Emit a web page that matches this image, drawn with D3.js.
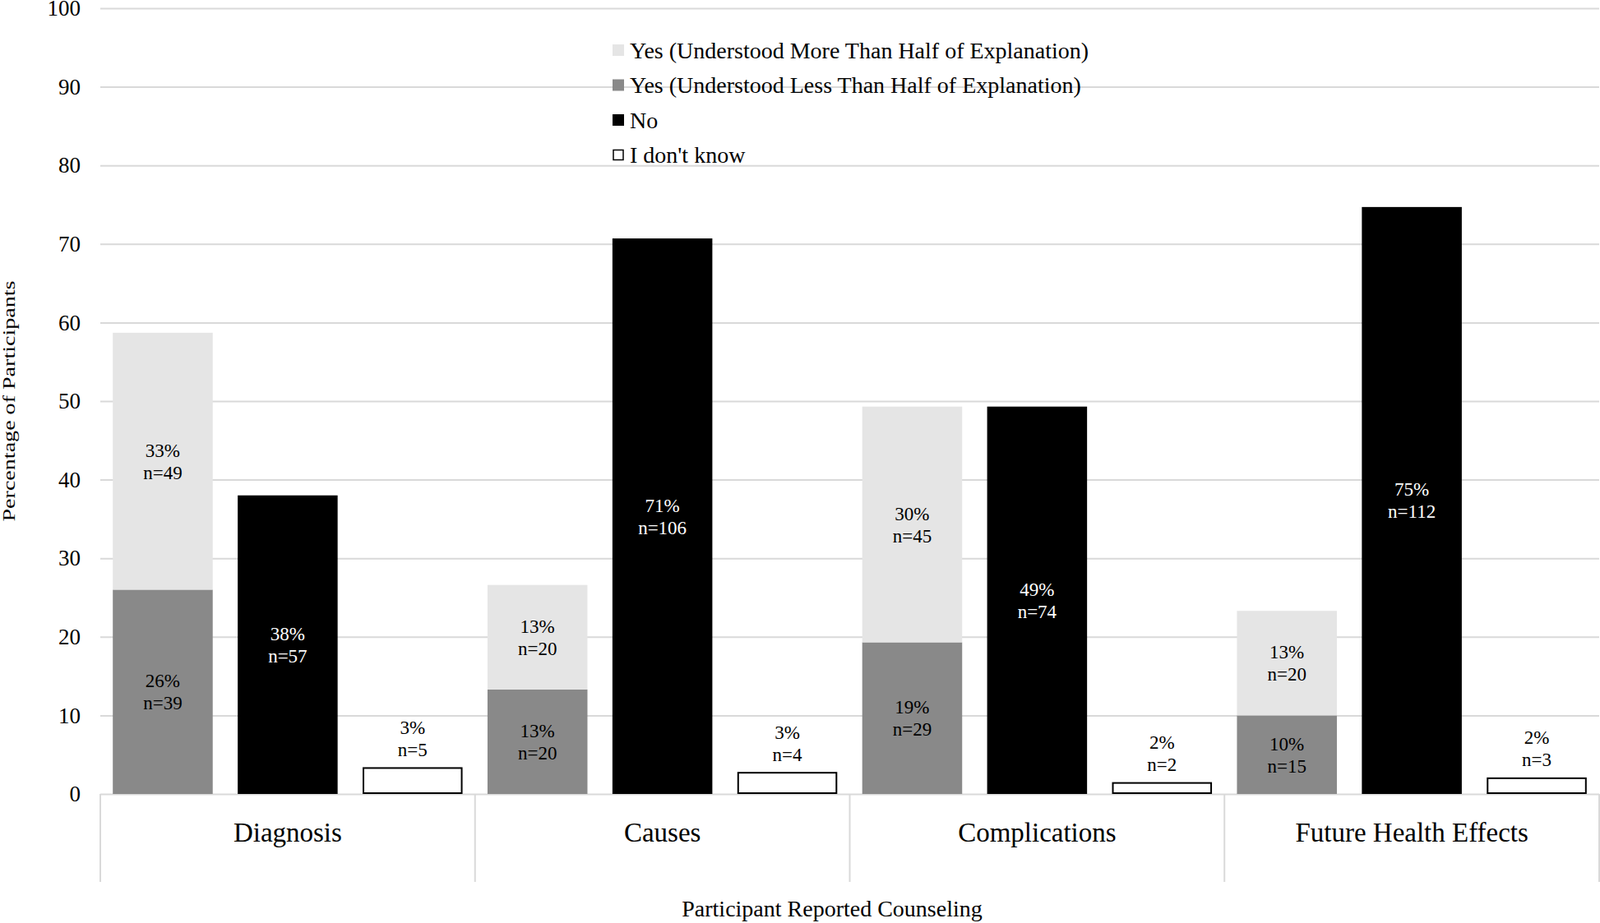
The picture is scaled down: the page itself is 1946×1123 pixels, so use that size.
<!DOCTYPE html>
<html>
<head>
<meta charset="utf-8">
<script src="https://cdn.jsdelivr.net/npm/d3@7/dist/d3.min.js"></script>
<style>
  html, body { margin: 0; padding: 0; background: #fff; }
  svg { display: block; }
  text { font-family: "Liberation Serif", "Times New Roman", serif; }
</style>
</head>
<body>
<svg id="chart" width="1946" height="1123"></svg>
<script>
// ---- data ----
const categories = ["Diagnosis", "Causes", "Complications", "Future Health Effects"];
const seriesNames = [
  "Yes (Understood More Than Half of Explanation)",
  "Yes (Understood Less Than Half of Explanation)",
  "No",
  "I don't know"
];
const moreHalf   = [32.7, 13.3, 30.0, 13.3];
const lessHalf   = [26.0, 13.3, 19.3, 10.0];
const noVals     = [38.0, 70.7, 49.3, 74.7];
const dontKnow   = [3.3, 2.7, 1.4, 2.0];
const moreHalfN  = [49, 20, 45, 20];
const lessHalfN  = [39, 20, 29, 15];
const noN        = [57, 106, 74, 112];
const dontKnowN  = [5, 4, 2, 3];
const moreHalfPct = ["33%", "13%", "30%", "13%"];
const lessHalfPct = ["26%", "13%", "19%", "10%"];
const noPct       = ["38%", "71%", "49%", "75%"];
const dontKnowPct = ["3%", "3%", "2%", "2%"];
const yTicks = [0, 10, 20, 30, 40, 50, 60, 70, 80, 90, 100];
const yTitle = "Percentage of Participants";
const xTitle = "Participant Reported Counseling";

// ---- styles ----
const colors = ["#e5e5e5", "#898989", "#000000", "#ffffff"];
const gridColor = "#d9d9d9";

const svg = d3.select("#chart");
const plot = { left: 122, right: 1945, top: 10, bottom: 966 };

const x = d3.scaleBand().domain(categories).range([plot.left, plot.right]).padding(0);
const groups = ["yes", "no", "idk"];
const xi = d3.scaleBand().domain(groups).range([0, x.bandwidth()]).paddingInner(0.2).paddingOuter(0.1);
const y = d3.scaleLinear().domain([0, 100]).range([plot.bottom, plot.top]);

// gridlines + tick labels
const yAxis = d3.axisLeft(y).tickValues(yTicks).tickSize(-(plot.right - plot.left)).tickPadding(24);
const gy = svg.append("g").attr("transform", `translate(${plot.left},0)`).call(yAxis);
gy.select(".domain").remove();
gy.selectAll(".tick line").attr("stroke", gridColor).attr("stroke-width", 2);
gy.selectAll(".tick text").attr("font-size", 27).attr("fill", "#000")
  .attr("font-family", "Liberation Serif, serif");

// category box lines
const boxBottom = 1073;
const dividers = categories.map(c => x(c)).concat([plot.right]);
svg.append("g").selectAll("line").data(dividers).join("line")
  .attr("x1", d => d).attr("x2", d => d)
  .attr("y1", plot.bottom).attr("y2", boxBottom)
  .attr("stroke", gridColor).attr("stroke-width", 2);

// bars
const bars = svg.append("g");
const labels = svg.append("g");
const lbl = (cx, cy, l1, l2, col) => {
  const t = labels.append("text").attr("text-anchor", "middle").attr("font-size", 23).attr("fill", col);
  t.append("tspan").attr("x", cx).attr("y", cy - 13.5).attr("dy", "0.35em").text(l1);
  t.append("tspan").attr("x", cx).attr("y", cy + 13.5).attr("dy", "0.35em").text(l2);
};

categories.forEach((c, i) => {
  const gx = x(c);
  const segs = [
    { y0: 0, y1: lessHalf[i], color: colors[1], pct: lessHalfPct[i], n: lessHalfN[i] },
    { y0: lessHalf[i], y1: lessHalf[i] + moreHalf[i], color: colors[0], pct: moreHalfPct[i], n: moreHalfN[i] }
  ];
  segs.forEach(s => {
    bars.append("rect")
      .attr("x", gx + xi("yes")).attr("width", xi.bandwidth())
      .attr("y", y(s.y1)).attr("height", y(s.y0) - y(s.y1))
      .attr("fill", s.color);
  });
  bars.append("rect")
    .attr("x", gx + xi("no")).attr("width", xi.bandwidth())
    .attr("y", y(noVals[i])).attr("height", y(0) - y(noVals[i]))
    .attr("fill", colors[2]);
  bars.append("rect")
    .attr("x", gx + xi("idk") + 1).attr("width", xi.bandwidth() - 2)
    .attr("y", y(dontKnow[i])).attr("height", y(0) - y(dontKnow[i]) - 1)
    .attr("fill", colors[3]).attr("stroke", "#000").attr("stroke-width", 2);

  const cxYes = gx + xi("yes") + xi.bandwidth() / 2;
  segs.forEach(s => lbl(cxYes, (y(s.y0) + y(s.y1)) / 2, s.pct, "n=" + s.n, "#000"));
  lbl(gx + xi("no") + xi.bandwidth() / 2, (y(0) + y(noVals[i])) / 2, noPct[i], "n=" + noN[i], "#fff");
  lbl(gx + xi("idk") + xi.bandwidth() / 2, y(dontKnow[i]) - 36, dontKnowPct[i], "n=" + dontKnowN[i], "#000");
});

// category labels
svg.append("g").selectAll("text").data(categories).join("text")
  .attr("x", d => x(d) + x.bandwidth() / 2)
  .attr("y", 1012).attr("dy", "0.35em")
  .attr("text-anchor", "middle").attr("font-size", 33).attr("fill", "#000")
  .text(d => d);

// axis titles
svg.append("text")
  .attr("x", 1012).attr("y", 1115)
  .attr("text-anchor", "middle").attr("font-size", 28).attr("fill", "#000")
  .text(xTitle);

svg.append("text")
  .attr("transform", `translate(18,488) rotate(-90)`)
  .attr("text-anchor", "middle").attr("font-size", 21).attr("fill", "#000")
  .attr("textLength", 293).attr("lengthAdjust", "spacingAndGlyphs")
  .text(yTitle);

// legend
const leg = svg.append("g");
const legRowY = d3.scaleLinear().domain([0, 3]).range([61, 188.5]);
seriesNames.forEach((name, i) => {
  const cy = legRowY(i);
  leg.append("rect")
    .attr("x", i === 3 ? 746 : 745).attr("y", cy - (i === 3 ? 6 : 7))
    .attr("width", i === 3 ? 12 : 14).attr("height", i === 3 ? 12 : 14)
    .attr("fill", colors[i])
    .attr("stroke", i === 3 ? "#000" : "none").attr("stroke-width", 1.5);
  leg.append("text")
    .attr("x", 766).attr("y", cy).attr("dy", "0.35em")
    .attr("font-size", 28).attr("fill", "#000")
    .text(name);
});
</script>
</body>
</html>
